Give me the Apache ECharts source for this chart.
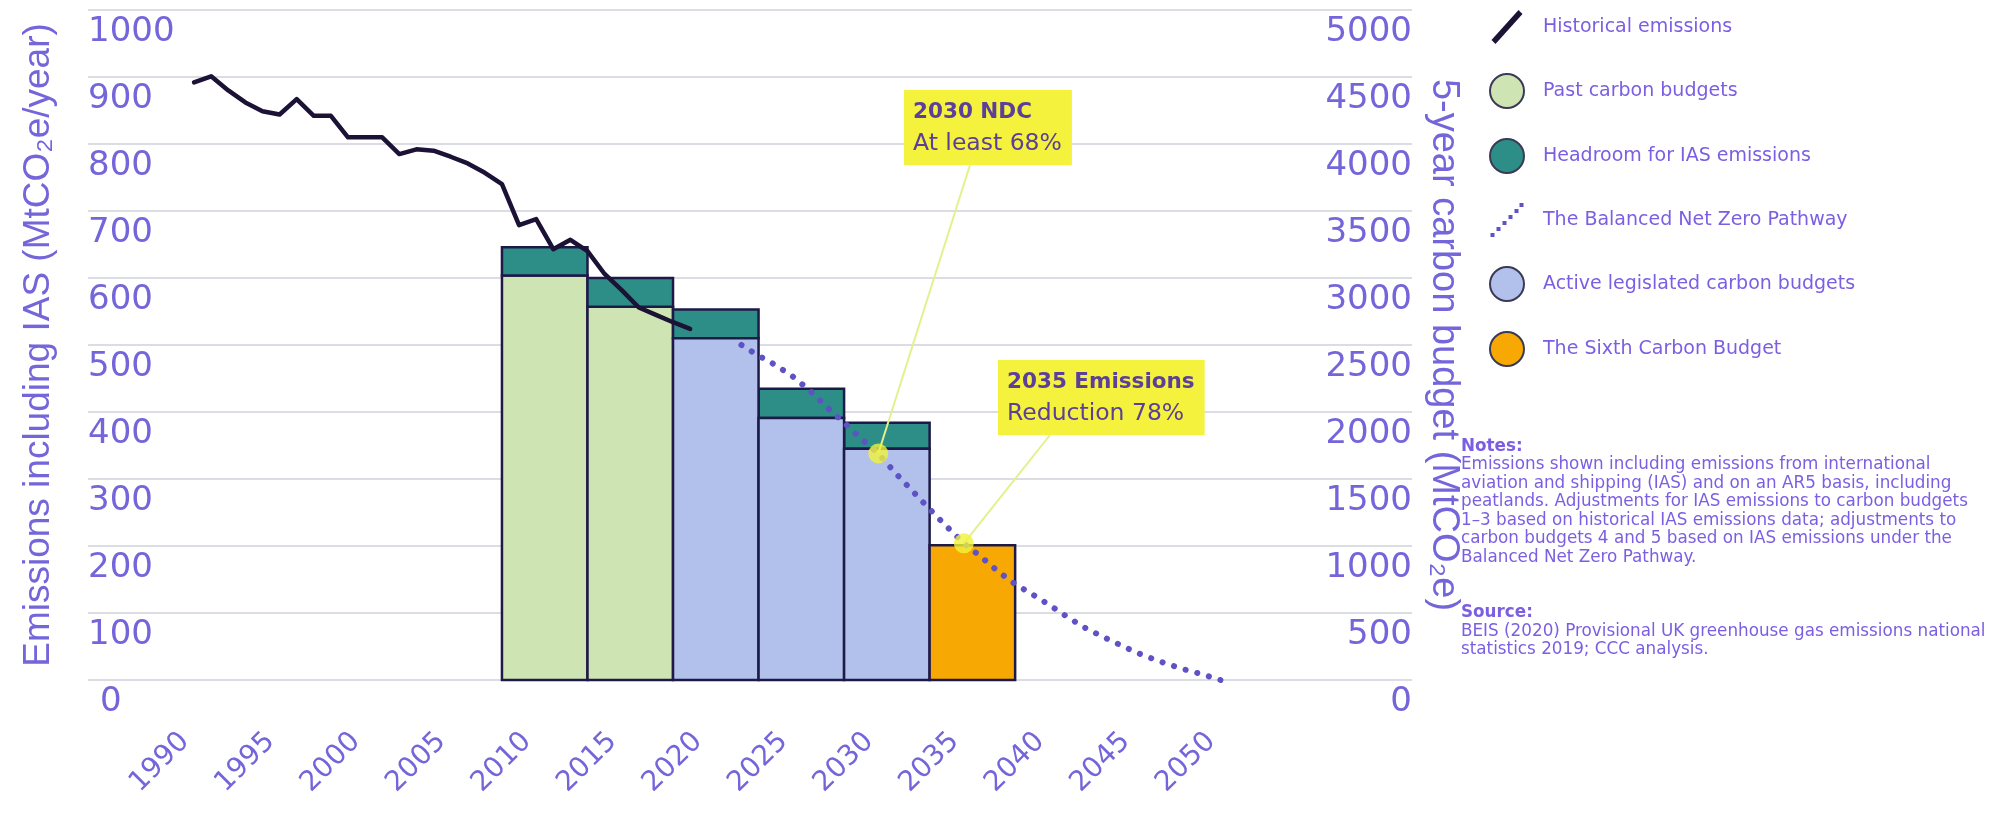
<!DOCTYPE html>
<html>
<head>
<meta charset="utf-8">
<script src="https://cdn.jsdelivr.net/npm/echarts@6/dist/echarts.min.js"></script>
<style>
  html, body { margin: 0; padding: 0; background: #ffffff; }
  #chart { width: 1991px; height: 813px; }
</style>
</head>
<body>
<div id="chart"></div>
<script>
// Historical emissions including IAS (MtCO2e per year)
const historyYears = [1990, 1991, 1992, 1993, 1994, 1995, 1996, 1997, 1998, 1999,
                      2000, 2001, 2002, 2003, 2004, 2005, 2006, 2007, 2008, 2009,
                      2010, 2011, 2012, 2013, 2014, 2015, 2016, 2017, 2018, 2019];
const historyValues = [892, 901, 880, 862, 849, 844, 867, 842, 842, 810,
                       810, 810, 785, 792, 790, 781, 771, 757, 740, 679,
                       688, 643, 657, 640, 606, 582, 556, 545, 534, 524];

// Balanced Net Zero Pathway (MtCO2e per year)
const pathwayYears = [2022, 2023, 2024, 2025, 2026, 2027, 2028, 2029, 2030, 2031,
                      2032, 2033, 2034, 2035, 2036, 2037, 2038, 2039, 2040, 2041,
                      2042, 2043, 2044, 2045, 2046, 2047, 2048, 2049, 2050];
const pathwayValues = [500, 484, 470, 453, 432, 407, 384, 360, 338, 309,
                       282, 255, 229, 204, 184, 162, 143, 128, 112, 95,
                       79, 66, 54, 42, 32, 23, 15, 8, 0];

// Five-year carbon budgets (MtCO2e per budget period)
const budgetStartYears = [2008, 2013, 2018, 2023, 2028, 2033];
const budgetValues     = [3018, 2785, 2550, 1955, 1725, 1005];
const headroomValues   = [212, 215, 215, 218, 195, 0];
const budgetGroups     = ['past', 'past', 'active', 'active', 'active', 'sixth'];
const budgetLength = 5;

// Highlighted milestones on the pathway
const milestoneYears  = [2030, 2035];
const milestoneValues = [338, 204];
const milestoneTitles = ['2030 NDC', '2035 Emissions'];
const milestoneTexts  = ['At least 68%', 'Reduction 78%'];

// Axis ticks
const yearTicks = [1990, 1995, 2000, 2005, 2010, 2015, 2020, 2025, 2030, 2035, 2040, 2045, 2050];
const annualMax = 1000, annualStep = 100;
const budgetMax = 5000, budgetStep = 500;

const seriesNames = {
  history: 'Historical emissions',
  past: 'Past carbon budgets',
  headroom: 'Headroom for IAS emissions',
  pathway: 'The Balanced Net Zero Pathway',
  active: 'Active legislated carbon budgets',
  sixth: 'The Sixth Carbon Budget'
};

const AXIS_TEXT = '#7466da';
const LEGEND_TEXT = '#7b5ee2';
const NOTE_FONT = 'DejaVu Sans';
const TICK_FONT = 'DejaVu Sans';
const TITLE_FONT = 'Liberation Sans';
const OUTLINE = '#1e1a48';

function blockData(group) {
  const out = [];
  budgetStartYears.forEach((y, i) => {
    if (group === 'headroom') {
      if (headroomValues[i] > 0) out.push([y, budgetValues[i], budgetValues[i] + headroomValues[i]]);
    } else if (budgetGroups[i] === group) {
      out.push([y, 0, budgetValues[i]]);
    }
  });
  return out;
}

function renderBlock(params, api) {
  const start = api.value(0);
  const bottomLeft = api.coord([start, api.value(1)]);
  const topRight = api.coord([start + budgetLength, api.value(2)]);
  return {
    type: 'rect',
    shape: {
      x: bottomLeft[0], y: topRight[1],
      width: topRight[0] - bottomLeft[0], height: bottomLeft[1] - topRight[1]
    },
    style: { fill: api.visual('color'), stroke: OUTLINE, lineWidth: 2.5 }
  };
}

function blockSeries(group, name, color) {
  return {
    type: 'custom', name: name, renderItem: renderBlock,
    xAxisIndex: 0, yAxisIndex: 1,
    encode: { x: 0, y: [1, 2] },
    itemStyle: { color: color },
    data: blockData(group), z: 2, silent: true
  };
}

const tickLabelStyle = { color: AXIS_TEXT, fontSize: 34, fontFamily: TICK_FONT };

const chart = echarts.init(document.getElementById('chart'), null, { renderer: 'canvas' });

const option = {
  backgroundColor: '#ffffff',
  animation: false,
  grid: { left: 88, top: 10, width: 1324, height: 670, outerBoundsMode: 'none' },
  xAxis: {
    type: 'value', min: 1983.8, max: 2061.2,
    axisLine: { show: false }, axisTick: { show: false }, splitLine: { show: false },
    axisLabel: {
      customValues: yearTicks, rotate: 45, margin: 48, padding: [0, 13, 0, 0],
      color: AXIS_TEXT, fontSize: 28, fontFamily: TICK_FONT,
      formatter: v => String(v)
    }
  },
  yAxis: [
    {
      type: 'value', min: 0, max: annualMax, interval: annualStep, position: 'left',
      name: 'Emissions including IAS (MtCO₂e/year)', nameLocation: 'middle', nameGap: 31, nameRotate: 90,
      nameMoveOverlap: false,
      nameTextStyle: { color: AXIS_TEXT, fontSize: 37, fontFamily: TITLE_FONT },
      axisLine: { show: false }, axisTick: { show: false },
      splitLine: { show: true, lineStyle: { color: '#dcdce4', width: 2 } },
      axisLabel: {
        inside: true, margin: 0, align: 'left', verticalAlign: 'top', padding: [5, 0, 0, 0],
        color: AXIS_TEXT, fontSize: 34, fontFamily: TICK_FONT,
        formatter: v => (v === 0 ? '{zero|0}' : String(v)),
        rich: { zero: Object.assign({ padding: [0, 0, 0, 12] }, tickLabelStyle) }
      }
    },
    {
      type: 'value', min: 0, max: budgetMax, interval: budgetStep, position: 'right',
      name: '5-year carbon budget (MtCO₂e)', nameLocation: 'middle', nameGap: 12, nameRotate: -90,
      nameMoveOverlap: false,
      nameTextStyle: { color: AXIS_TEXT, fontSize: 38, fontFamily: TITLE_FONT },
      axisLine: { show: false }, axisTick: { show: false }, splitLine: { show: false },
      axisLabel: {
        inside: true, margin: 0, align: 'right', verticalAlign: 'top', padding: [5, 0, 0, 0],
        color: AXIS_TEXT, fontSize: 34, fontFamily: TICK_FONT, formatter: v => String(v)
      }
    }
  ],
  legend: {
    orient: 'vertical', left: 1484, top: 5,
    itemWidth: 34, itemHeight: 34, itemGap: 29,
    selectedMode: false,
    textStyle: { color: LEGEND_TEXT, fontSize: 19, fontFamily: NOTE_FONT, padding: [0, 0, 0, 14] },
    data: [
      { name: seriesNames.history, icon: 'path://M0,31 L27,1 L31,5 L4,35 Z', itemStyle: { color: '#1b1236', borderWidth: 0 } },
      { name: seriesNames.past, icon: 'circle', itemStyle: { borderColor: '#3b3a56', borderWidth: 2 } },
      { name: seriesNames.headroom, icon: 'circle', itemStyle: { borderColor: '#3b3a56', borderWidth: 2 } },
      { name: seriesNames.pathway, icon: 'path://M2,31h4v4h-4z M8,25h4v4h-4z M14,19h4v4h-4z M20,13h4v4h-4z M26,7h4v4h-4z M31,1h4v4h-4z', itemStyle: { color: '#5e52c4', borderWidth: 0 } },
      { name: seriesNames.active, icon: 'circle', itemStyle: { borderColor: '#3b3a56', borderWidth: 2 } },
      { name: seriesNames.sixth, icon: 'circle', itemStyle: { borderColor: '#3b3a56', borderWidth: 2 } }
    ]
  },
  series: [
    blockSeries('past', seriesNames.past, '#cfe4b3'),
    blockSeries('headroom', seriesNames.headroom, '#2c8e86'),
    blockSeries('active', seriesNames.active, '#b2c1eb'),
    blockSeries('sixth', seriesNames.sixth, '#f8a802'),
    {
      type: 'line', name: seriesNames.history,
      data: historyYears.map((y, i) => [y, historyValues[i]]),
      showSymbol: false, symbol: 'none',
      lineStyle: { color: '#1b1236', width: 4.5, join: 'round', cap: 'round' },
      itemStyle: { color: '#1b1236' },
      z: 10, silent: true
    },
    {
      type: 'line', name: seriesNames.pathway,
      data: pathwayYears.map((y, i) => [y, pathwayValues[i]]),
      showSymbol: false, symbol: 'none',
      lineStyle: { color: '#5e52c4', width: 6, type: [0.1, 12], cap: 'round' },
      itemStyle: { color: '#5e52c4' },
      z: 10, silent: true
    },
    {
      type: 'scatter', name: 'milestones',
      data: milestoneYears.map((y, i) => [y, milestoneValues[i]]),
      symbolSize: 20, itemStyle: { color: '#f1f23b' },
      z: 30, silent: true
    }
  ]
};

chart.setOption(option);

// Callout boxes with leader lines to the milestone markers
const boxes = [
  { x: 904, y: 90, anchor: [970, 165] },
  { x: 998, y: 360, anchor: [1050, 435] }
];
const graphics = [];
milestoneYears.forEach((yr, i) => {
  const p = chart.convertToPixel({ xAxisIndex: 0, yAxisIndex: 0 }, [yr, milestoneValues[i]]);
  graphics.push({
    type: 'line', z: 25, silent: true,
    shape: { x1: boxes[i].anchor[0], y1: boxes[i].anchor[1], x2: p[0], y2: p[1] },
    style: { stroke: '#e4f08c', lineWidth: 2 }
  });
  graphics.push({
    type: 'text', z: 26, silent: true, x: boxes[i].x, y: boxes[i].y,
    style: {
      text: '{b|' + milestoneTitles[i] + '}\n{r|' + milestoneTexts[i] + '}',
      backgroundColor: '#f4f23c', padding: [7, 10, 6, 9],
      rich: {
        b: { fontFamily: NOTE_FONT, fontWeight: 'bold', fontSize: 21.5, lineHeight: 31, fill: '#5b3f98' },
        r: { fontFamily: NOTE_FONT, fontSize: 23.5, lineHeight: 31, fill: '#5b3f98' }
      }
    }
  });
});

graphics.push({
  type: 'text', silent: true, x: 1461, y: 437,
  style: {
    text: '{h|Notes:}\n' +
      'Emissions shown including emissions from international\n' +
      'aviation and shipping (IAS) and on an AR5 basis, including\n' +
      'peatlands. Adjustments for IAS emissions to carbon budgets\n' +
      '1–3 based on historical IAS emissions data; adjustments to\n' +
      'carbon budgets 4 and 5 based on IAS emissions under the\n' +
      'Balanced Net Zero Pathway.\n' +
      '\n\n' +
      '{h|Source:}\n' +
      'BEIS (2020) Provisional UK greenhouse gas emissions national\n' +
      'statistics 2019; CCC analysis.',
    fill: LEGEND_TEXT, fontFamily: NOTE_FONT, fontSize: 16.8, lineHeight: 18.5,
    rich: { h: { fontFamily: NOTE_FONT, fontSize: 16.8, fontWeight: 'bold', lineHeight: 18.5, fill: LEGEND_TEXT } }
  }
});

chart.setOption({ graphic: graphics });
</script>
</body>
</html>
